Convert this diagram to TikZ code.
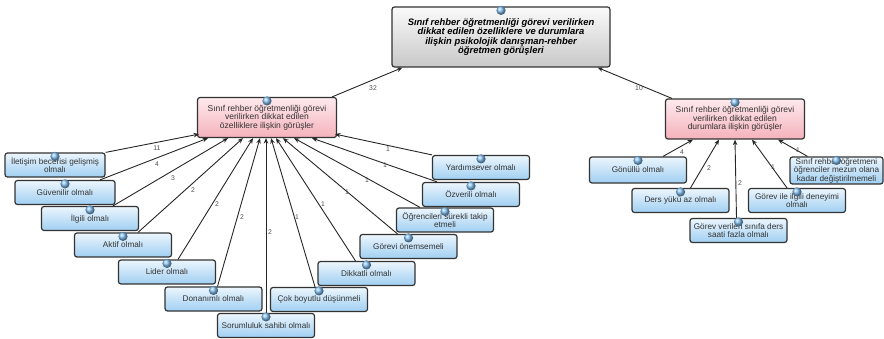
\documentclass[tikz,border=0pt]{standalone}
\usepackage{fontspec}
\setmainfont{Liberation Sans}
\usetikzlibrary{arrows.meta}
\definecolor{leafT}{RGB}{236,246,253}
\definecolor{leafB}{RGB}{160,207,242}
\definecolor{pinkT}{RGB}{253,234,237}
\definecolor{pinkB}{RGB}{245,178,188}
\definecolor{rootT}{RGB}{250,250,250}
\definecolor{rootB}{RGB}{200,200,200}
\definecolor{bubC}{RGB}{130,190,240}
\tikzset{
  box/.style={draw=black!80, line width=1.2pt, rounded corners=2.5pt, align=center, inner sep=1pt, text=black!80},
  leaf/.style={box, top color=leafT, bottom color=leafB, minimum width=97pt, minimum height=24pt, font=\fontsize{8.2}{8.6}\selectfont},
  mid/.style={box, top color=pinkT, bottom color=pinkB, minimum width=139pt, minimum height=40pt, font=\fontsize{8.5}{8.6}\selectfont},
  root/.style={box, top color=rootT, bottom color=rootB, minimum width=218pt, minimum height=60pt, font=\fontsize{9.4}{9.4}\selectfont\bfseries\itshape, text=black},
  conn/.style={draw=black!85, line width=0.9pt, -{Stealth[length=5.5pt,width=4.5pt]}},
  lbl/.style={font=\fontsize{6.8}{7}\selectfont, text=black!70, inner sep=0pt},
  bubble/.style={ball color=bubC}
}
\begin{document}
\begin{tikzpicture}[x=1pt,y=-1pt]
\useasboundingbox (0,0) rectangle (884,339);
% root and middle nodes
\node[root] (top) at (501,37) {Sınıf rehber öğretmenliği görevi verilirken\\dikkat edilen özelliklere ve durumlara\\ilişkin psikolojik danışman-rehber\\öğretmen görüşleri};
\node[mid] (L) at (267,117.5) {Sınıf rehber öğretmenliği görevi\\verilirken dikkat edilen\\özelliklere ilişkin görüşler};
\node[mid] (R) at (735,119) {Sınıf rehber öğretmenliği görevi\\verilirken dikkat edilen\\durumlara ilişkin görüşler};
% left leaves
\node[leaf, minimum width=100pt] (a1) at (55,165) {İletişim becerisi gelişmiş\\olmalı};
\node[leaf, minimum width=100pt] (a2) at (65,192.5) {Güvenilir olmalı};
\node[leaf] (a3) at (90,218.5) {İlgili olmalı};
\node[leaf] (a4) at (123,245) {Aktif olmalı};
\node[leaf] (a5) at (167,272) {Lider olmalı};
\node[leaf] (a6) at (213.5,299) {Donanımlı olmalı};
\node[leaf] (a7) at (266,325.5) {Sorumluluk sahibi olmalı};
\node[leaf] (a8) at (319,299.5) {Çok boyutlu düşünmeli};
\node[leaf] (a9) at (366.5,273.5) {Dikkatli olmalı};
\node[leaf] (a10) at (408.5,246.5) {Görevi önemsemeli};
\node[leaf] (a11) at (445,220) {Öğrencileri sürekli takip\\etmeli};
\node[leaf] (a12) at (471,194.5) {Özverili olmalı};
\node[leaf] (a13) at (481,167.5) {Yardımsever olmalı};
% right leaves
\node[leaf, minimum height=26pt] (b1) at (638,170) {Gönüllü olmalı};
\node[leaf] (b2) at (680.5,200.5) {Ders yükü az olmalı};
\node[leaf] (b3) at (738.5,230.5) {Görev verilen sınıfa ders\\saati fazla olmalı};
\node[leaf] (b4) at (797,200.5) {Görev ile ilgili deneyimi\\olmalı};
\node[leaf, minimum width=93pt, minimum height=27pt] (b5) at (836.5,170.5) {Sınıf rehber öğretmeni\\öğrenciler mezun olana\\kadar değiştirilmemeli};
% connectors to root
\draw[conn] ([xshift=-5pt]L.north east) -- ([xshift=11pt]top.south west);
\draw[conn] ([xshift=7pt]R.north west) -- ([xshift=-13pt]top.south east);
% left connectors
\draw[conn] (a1.north east) -- ([xshift=-68pt,yshift=4pt]L.south);
\draw[conn] ([xshift=35pt]a2.north) -- ([xshift=-59pt]L.south);
\draw[conn] ([xshift=23pt]a3.north) -- ([xshift=-39pt]L.south);
\draw[conn] ([xshift=15pt]a4.north) -- ([xshift=-24pt]L.south);
\draw[conn] ([xshift=11pt]a5.north) -- ([xshift=-14pt]L.south);
\draw[conn] ([xshift=4pt]a6.north) -- ([xshift=-7pt]L.south);
\draw[conn] (a7.north) -- ([xshift=-1pt]L.south);
\draw[conn] ([xshift=-4pt]a8.north) -- ([xshift=4pt]L.south);
\draw[conn] ([xshift=-11pt]a9.north) -- ([xshift=9pt]L.south);
\draw[conn] ([xshift=-11pt]a10.north) -- ([xshift=16pt]L.south);
\draw[conn] ([xshift=-25pt]a11.north) -- ([xshift=27pt]L.south);
\draw[conn] ([xshift=-34pt]a12.north) -- ([xshift=45pt]L.south);
\draw[conn] (a13.north west) -- ([xshift=68pt,yshift=4pt]L.south);
% right connectors
\draw[conn] ([xshift=25pt]b1.north) -- ([xshift=-42pt]R.south);
\draw[conn] ([xshift=10pt]b2.north) -- ([xshift=-16pt]R.south);
\draw[conn] ([xshift=-2pt]b3.north) -- ([xshift=0pt]R.south);
\draw[conn] ([xshift=-10pt]b4.north) -- ([xshift=17pt]R.south);
\draw[conn] ([xshift=-29pt]b5.north) -- ([xshift=43pt]R.south);
% edge labels
\node[lbl] (t1) at (373,88) {32};
\node[lbl] (t2) at (639,88) {10};
\node[lbl] (c1) at (157,148) {11};
\node[lbl] (c2) at (157,164) {4};
\node[lbl] (c3) at (173,178) {3};
\node[lbl] (c4) at (193,190) {2};
\node[lbl] (c5) at (217,204) {2};
\node[lbl] (c6) at (242,217) {2};
\node[lbl] (c7) at (270,232) {2};
\node[lbl] (c8) at (297,217) {1};
\node[lbl] (c9) at (323,204) {1};
\node[lbl] (c10) at (347,192) {1};
\node[lbl] (c11) at (367,180) {1};
\node[lbl] (c12) at (385,165) {1};
\node[lbl] (c13) at (388,149) {1};
\node[lbl] (d1) at (682,152) {4};
\node[lbl] (d2) at (709,168) {2};
\node[lbl] (d3) at (740,183) {2};
\node[lbl] (d4) at (773,167) {1};
\node[lbl] (d5) at (798,150) {1};
% bubbles
\foreach \n in {top,L,R,a1,a2,a3,a4,a5,a6,a7,a8,a9,a10,a11,a12,a13,b1,b2,b3,b4,b5}
  \shade[bubble] ([yshift=-4pt]\n.north) circle (4.6pt);
\end{tikzpicture}
\end{document}
